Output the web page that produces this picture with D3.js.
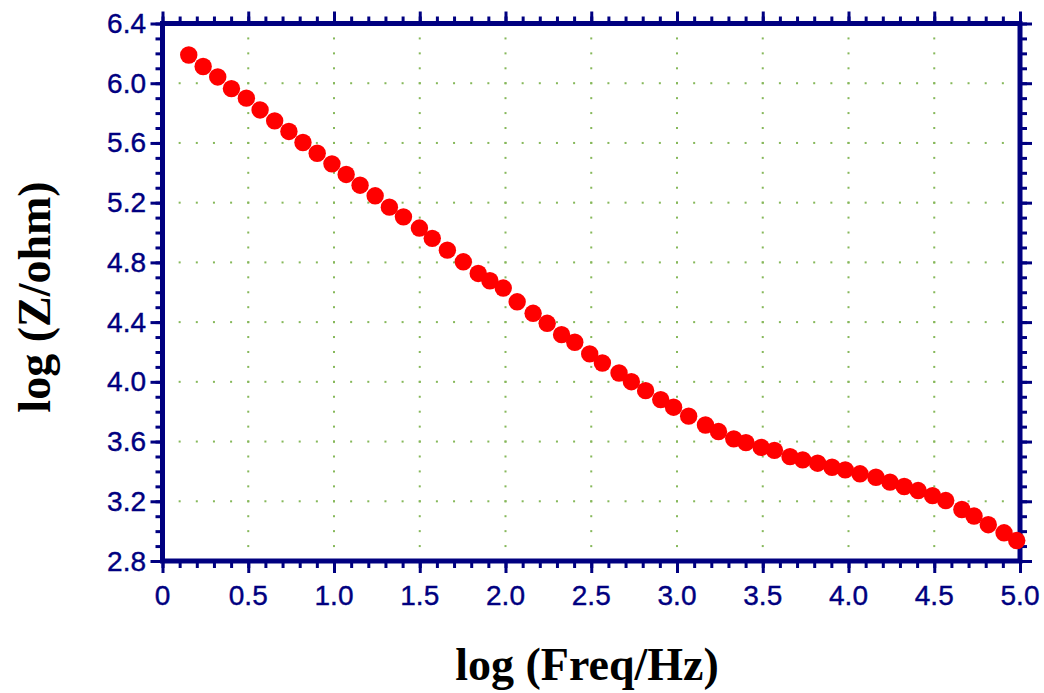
<!DOCTYPE html>
<html>
<head>
<meta charset="utf-8">
<script src="https://cdn.jsdelivr.net/npm/d3@7"></script>
<style>
  html, body { margin: 0; padding: 0; background: #ffffff; }
  svg { display: block; }
</style>
</head>
<body>
<svg id="chart" width="1044" height="693"></svg>
<script>
// Bode magnitude: log|Z| against log frequency
const logFreq = [
  0.153, 0.237, 0.322, 0.402, 0.489, 0.569, 0.654, 0.737, 0.819, 0.902,
  0.988, 1.071, 1.152, 1.240, 1.323, 1.405, 1.498, 1.573, 1.661, 1.754,
  1.841, 1.909, 1.987, 2.068, 2.161, 2.243, 2.327, 2.404, 2.491, 2.565,
  2.662, 2.734, 2.817, 2.905, 2.980, 3.068, 3.166, 3.242, 3.331, 3.402,
  3.491, 3.568, 3.659, 3.733, 3.820, 3.904, 3.981, 4.067, 4.160, 4.242,
  4.325, 4.406, 4.490, 4.567, 4.661, 4.732, 4.815, 4.907, 4.981
];
const logZ = [
  6.189, 6.112, 6.042, 5.964, 5.900, 5.821, 5.748, 5.677, 5.603, 5.531,
  5.460, 5.389, 5.317, 5.246, 5.170, 5.105, 5.030, 4.961, 4.882, 4.804,
  4.726, 4.677, 4.628, 4.536, 4.459, 4.392, 4.316, 4.265, 4.187, 4.126,
  4.059, 4.001, 3.941, 3.881, 3.830, 3.770, 3.711, 3.667, 3.618, 3.593,
  3.561, 3.541, 3.499, 3.477, 3.455, 3.428, 3.410, 3.384, 3.361, 3.328,
  3.299, 3.272, 3.238, 3.205, 3.145, 3.101, 3.043, 2.989, 2.937
];

const xTicks = [0, 0.5, 1.0, 1.5, 2.0, 2.5, 3.0, 3.5, 4.0, 4.5, 5.0];
const xTickLabels = ["0", "0.5", "1.0", "1.5", "2.0", "2.5", "3.0", "3.5", "4.0", "4.5", "5.0"];
const yTicks = [2.8, 3.2, 3.6, 4.0, 4.4, 4.8, 5.2, 5.6, 6.0, 6.4];
const yTickLabels = ["2.8", "3.2", "3.6", "4.0", "4.4", "4.8", "5.2", "5.6", "6.0", "6.4"];
const xMinor = d3.range(0, 51).map(i => i / 10);
const yMinor = d3.range(28, 65).map(i => i / 10);

const xTitle = "log (Freq/Hz)";
const yTitle = "log (Z/ohm)";

const navy = "#000080";
const svg = d3.select("#chart");

const x = d3.scaleLinear().domain([0, 5]).range([162.5, 1020]);
const y = d3.scaleLinear().domain([2.8, 6.4]).range([561, 23.5]);

const plotLeft = x(0), plotRight = x(5), plotTop = y(6.4), plotBottom = y(2.8);

// dotted grid: dots at major lines crossed with minor steps
const grid = svg.append("g").attr("fill", "#86b85a");
const innerX = xTicks.slice(1, -1);
const innerY = yTicks.slice(1, -1);
const dots = [];
innerX.forEach(gx => yMinor.slice(1, -1).forEach(my => dots.push([gx, my])));
innerY.forEach(gy => xMinor.slice(1, -1).forEach(mx => dots.push([mx, gy])));
grid.selectAll("rect").data(dots).join("rect")
  .attr("x", d => x(d[0]) - 1)
  .attr("y", d => y(d[1]) - 1)
  .attr("width", 2).attr("height", 2);

// axes: major and minor ticks on all four sides, pointing outwards
function styleAxis(g) {
  g.select(".domain").remove();
  g.selectAll(".tick line").attr("stroke", navy).attr("stroke-width", 3);
  g.selectAll(".tick text").remove();
}
const sides = [
  { axis: () => d3.axisBottom(x), pos: `translate(0,${plotBottom})`, major: xTicks, minor: xMinor },
  { axis: () => d3.axisTop(x), pos: `translate(0,${plotTop})`, major: xTicks, minor: xMinor },
  { axis: () => d3.axisLeft(y), pos: `translate(${plotLeft},0)`, major: yTicks, minor: yMinor },
  { axis: () => d3.axisRight(y), pos: `translate(${plotRight},0)`, major: yTicks, minor: yMinor }
];
sides.forEach(s => {
  svg.append("g").attr("transform", s.pos)
    .call(s.axis().tickValues(s.minor).tickSize(7).tickSizeOuter(0))
    .call(styleAxis);
  svg.append("g").attr("transform", s.pos)
    .call(s.axis().tickValues(s.major).tickSize(12).tickSizeOuter(0))
    .call(styleAxis);
});

// frame
svg.append("rect")
  .attr("x", plotLeft).attr("y", plotTop)
  .attr("width", plotRight - plotLeft).attr("height", plotBottom - plotTop)
  .attr("fill", "none").attr("stroke", navy).attr("stroke-width", 5);

// tick labels
const labelFont = "'Liberation Sans', Arial, sans-serif";
svg.append("g").selectAll("text").data(xTicks).join("text")
  .attr("x", d => x(d)).attr("y", 595)
  .attr("text-anchor", "middle").attr("dominant-baseline", "central")
  .attr("font-family", labelFont).attr("font-size", 28).attr("fill", navy)
  .attr("stroke", navy).attr("stroke-width", 0.4)
  .text((d, i) => xTickLabels[i]);
svg.append("g").selectAll("text").data(yTicks).join("text")
  .attr("x", 146).attr("y", d => y(d))
  .attr("text-anchor", "end").attr("dominant-baseline", "central")
  .attr("font-family", labelFont).attr("font-size", 28).attr("fill", navy)
  .attr("stroke", navy).attr("stroke-width", 0.4)
  .text((d, i) => yTickLabels[i]);

// axis titles
const titleFont = "'Liberation Serif', 'Times New Roman', serif";
svg.append("text")
  .attr("x", 587).attr("y", 680)
  .attr("text-anchor", "middle")
  .attr("font-family", titleFont).attr("font-weight", "bold").attr("font-size", 46)
  .attr("fill", "#000").text(xTitle);
svg.append("text")
  .attr("transform", "translate(50,297) rotate(-90)")
  .attr("text-anchor", "middle")
  .attr("font-family", titleFont).attr("font-weight", "bold").attr("font-size", 46)
  .attr("fill", "#000").text(yTitle);

// data markers
svg.append("g").selectAll("circle").data(logFreq).join("circle")
  .attr("cx", d => x(d))
  .attr("cy", (d, i) => y(logZ[i]))
  .attr("r", 8.7)
  .attr("fill", "#ff0000");
</script>
</body>
</html>
